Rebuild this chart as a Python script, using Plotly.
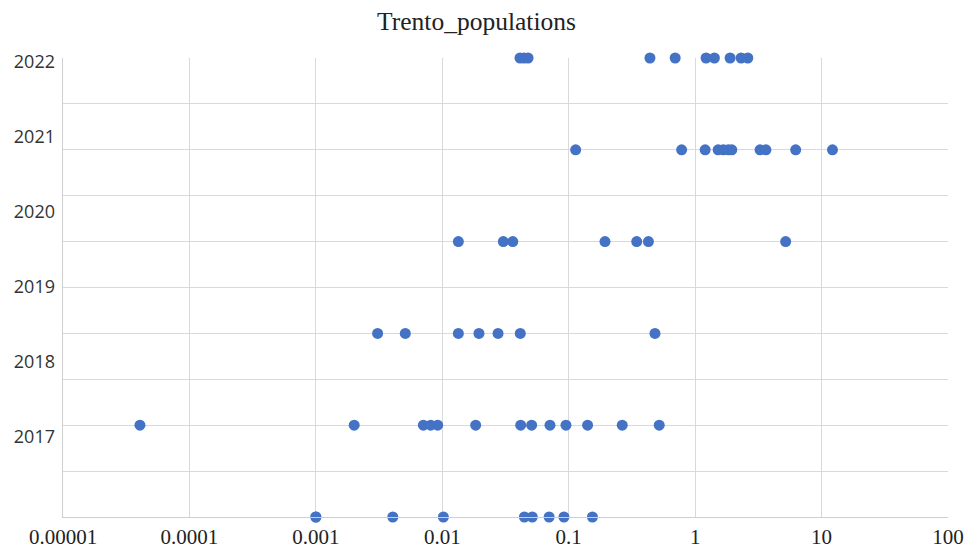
import plotly.graph_objects as go

# Tick labels
x_ticks = [0.00001, 0.0001, 0.001, 0.01, 0.1, 1, 10, 100]
x_ticktext = ["0.00001", "0.0001", "0.001", "0.01", "0.1", "1", "10", "100"]
year_labels = ["2022", "2021", "2020", "2019", "2018", "2017"]

# Row level of each series on the value axis
row_levels = [10, 8, 6, 4, 2, 0]

# Series values (x) per row, top to bottom
row_10 = [0.0412, 0.0444, 0.0477, 0.439, 0.695, 1.22, 1.42, 1.89, 2.31, 2.61]
row_8 = [0.1135, 0.782, 1.20, 1.52, 1.67, 1.83, 1.95, 3.26, 3.63, 6.24, 12.2]
row_6 = [0.0134, 0.0304, 0.0361, 0.1936, 0.345, 0.427, 5.20]
row_4 = [0.00308, 0.00510, 0.0134, 0.0195, 0.0276, 0.0414, 0.481]
row_2 = [0.0000406, 0.00201, 0.00708, 0.00810, 0.00920, 0.01837, 0.0417,
         0.0509, 0.0711, 0.0951, 0.141, 0.265, 0.520]
row_0 = [0.001, 0.001, 0.00406, 0.0102, 0.0446, 0.0515, 0.0700, 0.0917, 0.154]

rows = [row_10, row_8, row_6, row_4, row_2, row_0]

xs, ys = [], []
for lvl, vals in zip(row_levels, rows):
    xs.extend(vals)
    ys.extend([lvl] * len(vals))

# positions of the year labels on the label axis
label_pos = [9.92, 8.28, 6.65, 5.02, 3.38, 1.75]

grid = "#d9d9d9"
fig = go.Figure()
fig.add_trace(go.Scatter(
    x=xs, y=ys, mode="markers",
    marker=dict(color="#4472C4", size=11, line=dict(width=0)),
    cliponaxis=False, showlegend=False,
))
# invisible trace to activate label axis
fig.add_trace(go.Scatter(x=[1], y=[5], yaxis="y2", mode="markers",
                         marker=dict(opacity=0), showlegend=False, hoverinfo="skip"))

fig.update_layout(
    width=971, height=548,
    margin=dict(l=55, r=31, t=50, b=39, autoexpand=False),
    paper_bgcolor="white", plot_bgcolor="white",
    title=dict(text="Trento_populations", x=0.4825, xanchor="center", y=0.976, yanchor="middle",
               font=dict(family="Liberation Serif", size=25.5, color="#222222")),
    xaxis=dict(type="log", range=[-5, 2], tickvals=x_ticks, ticktext=x_ticktext,
               showgrid=True, gridcolor=grid, gridwidth=1.3,
               showline=True, linecolor="#cfcfcf", linewidth=1.3,
               ticks="", zeroline=False, ticklabelstandoff=1,
               tickfont=dict(family="Liberation Serif", size=21, color="#222222")),
    yaxis=dict(range=[0, 10], tickvals=list(range(0, 11)), showticklabels=False,
               showgrid=True, gridcolor=grid, gridwidth=1.3, zeroline=False,
               showline=True, linecolor="#cfcfcf", linewidth=1.3, ticks=""),
    yaxis2=dict(range=[0, 10], overlaying="y", side="left", tickvals=label_pos,
                ticktext=year_labels, showgrid=False, zeroline=False, showline=False,
                ticks="", ticklabelstandoff=7,
                tickfont=dict(family="Open Sans", size=18, color="#333333")),
)

fig.write_html("out.html")
